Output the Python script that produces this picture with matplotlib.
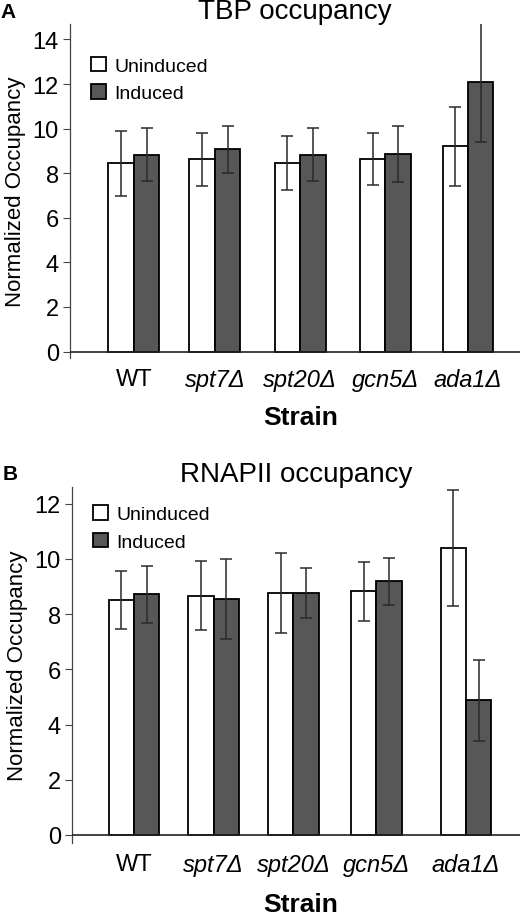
import matplotlib
matplotlib.use("Agg")
import matplotlib.pyplot as plt
import numpy as np
from matplotlib.patches import Patch

plt.rcParams['font.family'] = ['Liberation Sans', 'DejaVu Sans']

strains = ['WT', 'spt7Δ', 'spt20Δ', 'gcn5Δ', 'ada1Δ']

# panel A - TBP occupancy
tbp_unind = [8.45, 8.62, 8.45, 8.63, 9.2]
tbp_unind_err = [1.45, 1.2, 1.22, 1.18, 1.76]
tbp_ind = [8.83, 9.08, 8.83, 8.86, 12.07]
tbp_ind_err = [1.2, 1.05, 1.2, 1.27, 2.65]

# panel B - RNAPII occupancy
pol_unind = [8.5, 8.66, 8.76, 8.82, 10.39]
pol_unind_err = [1.05, 1.25, 1.45, 1.08, 2.1]
pol_ind = [8.72, 8.56, 8.77, 9.18, 4.88]
pol_ind_err = [1.03, 1.45, 0.9, 0.85, 1.47]

DARK = '#575757'


def draw_panel(ax, pos, unind, unind_err, ind, ind_err, title, letter, ymax, xlim, ticks, leg_y):
    w = 0.305
    pos = np.array(pos)
    ekw = dict(ecolor='#2a2a2a', elinewidth=1.1, capsize=4, capthick=1.1)
    ax.bar(pos - w / 2, unind, w, color='white', edgecolor='black', linewidth=1.3,
           yerr=unind_err, error_kw=ekw, zorder=2)
    ax.bar(pos + w / 2, ind, w, color=DARK, edgecolor='black', linewidth=1.3,
           yerr=ind_err, error_kw=ekw, zorder=2)
    ax.axhline(0, color='#222222', linewidth=1.2, zorder=3)
    ax.set_xlim(*xlim)
    ax.set_ylim(-0.3, ymax)
    ax.set_yticks(ticks)
    ax.set_xticks(pos)
    labels = ax.set_xticklabels(strains, fontsize=17)
    for lab in labels[1:]:
        lab.set_style('italic')
    ax.tick_params(axis='x', length=0, pad=7)
    ax.tick_params(axis='y', labelsize=17, length=5, width=0.8, color='#444444', pad=3)
    for s in ['top', 'right', 'bottom']:
        ax.spines[s].set_visible(False)
    ax.spines['left'].set_color('#444444')
    ax.spines['left'].set_linewidth(0.9)
    ax.set_ylabel('Normalized Occupancy', fontsize=16, labelpad=5)
    ax.set_title(title, fontsize=20, pad=3)
    handles = [Patch(facecolor='white', edgecolor='black', linewidth=1.3),
               Patch(facecolor=DARK, edgecolor='black', linewidth=1.3)]
    ax.legend(handles, ['Uninduced', 'Induced'], loc='upper left', bbox_to_anchor=(0.03, leg_y),
              frameon=False, fontsize=14, handlelength=0.75, handleheight=0.75,
              handletextpad=0.45, labelspacing=0.5, borderaxespad=0)
    ax.text(-0.155, 1.065, letter, transform=ax.transAxes, fontsize=15, fontweight='bold',
            va='top', ha='left')


fig = plt.figure(figsize=(5.31, 9.2), dpi=100)
ax1 = fig.add_axes([0.1318, 0.6095, 0.8475, 0.3635])
ax2 = fig.add_axes([0.1356, 0.0823, 0.8437, 0.3873])

draw_panel(ax1, [0, 0.97, 1.99, 3.01, 4.0], tbp_unind, tbp_unind_err, tbp_ind, tbp_ind_err,
           'TBP occupancy', 'A', 14.7, (-0.766, 4.623), [0, 2, 4, 6, 8, 10, 12, 14], 0.925)
draw_panel(ax2, [0, 0.96, 1.92, 2.92, 4.0], pol_unind, pol_unind_err, pol_ind, pol_ind_err,
           'RNAPII occupancy', 'B', 12.6, (-0.747, 4.65), [0, 2, 4, 6, 8, 10, 12], 0.97)

fig.text(0.567, 0.546, 'Strain', fontsize=19, fontweight='bold', ha='center', va='center')
fig.text(0.567, 0.0163, 'Strain', fontsize=19, fontweight='bold', ha='center', va='center')

fig.savefig('out.png', dpi=100)
